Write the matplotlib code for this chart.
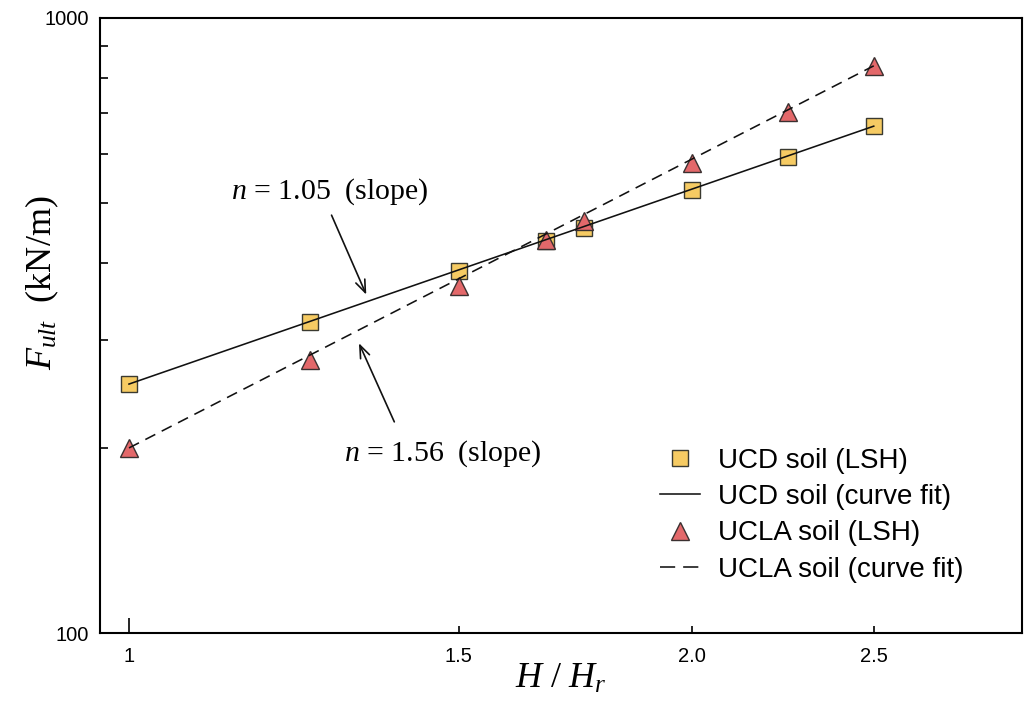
import matplotlib
matplotlib.use("Agg")
import matplotlib.pyplot as plt
from matplotlib.ticker import FixedLocator, NullFormatter, NullLocator

plt.rcParams["mathtext.fontset"] = "custom"
plt.rcParams["mathtext.rm"] = "Liberation Serif"
plt.rcParams["mathtext.it"] = "Liberation Serif:italic"

# Data
h_ratio = [1.0, 1.25, 1.5, 1.67, 1.75, 2.0, 2.25, 2.5]
ucd_lsh = [254, 320, 388, 434, 455, 525, 594, 667]
ucla_lsh = [200, 278, 366, 436, 468, 581, 703, 836]
fit_x = [1.0, 2.5]
ucd_fit = [254, 667]
ucla_fit = [200, 836]
xticks = [1, 1.5, 2.0, 2.5]
xticklabels = ["1", "1.5", "2.0", "2.5"]
yticks = [100, 1000]
yticklabels = ["100", "1000"]
yminor = [200, 300, 400, 500, 600, 700, 800, 900]

fig = plt.figure(figsize=(10.25, 7.05), dpi=100)
ax = fig.add_axes([0.0976, 0.102, 0.8994, 0.8725])
ax.set_xscale("log")
ax.set_yscale("log")
ax.set_xlim(0.965, 3.0)
ax.set_ylim(100, 1000)

dash = (0, (7, 4.5))
ax.plot(h_ratio, ucd_lsh, ls="none", marker="s", ms=12, mfc="#F6CB63",
        mec="#3a3a30", mew=1.0, label="UCD soil (LSH)", zorder=2)
ax.plot(fit_x, ucd_fit, color="#111111", lw=1.15, label="UCD soil (curve fit)", zorder=3)
ax.plot(h_ratio, ucla_lsh, ls="none", marker="^", ms=12.5, mfc="#E3686A",
        mec="#3a3030", mew=1.0, label="UCLA soil (LSH)", zorder=2)
ax.plot(fit_x, ucla_fit, color="#111111", lw=1.15, ls=dash,
        label="UCLA soil (curve fit)", zorder=3)

for s in ax.spines.values():
    s.set_linewidth(1.5)

ax.xaxis.set_major_locator(FixedLocator(xticks))
ax.xaxis.set_minor_locator(NullLocator())
ax.set_xticklabels(xticklabels)
ax.yaxis.set_major_locator(FixedLocator(yticks))
ax.yaxis.set_minor_locator(FixedLocator(yminor))
ax.yaxis.set_minor_formatter(NullFormatter())
ax.set_yticklabels(yticklabels)
ax.tick_params(axis="both", which="both", direction="in", top=False, right=False,
               labelsize=14.5, width=1.2)
ax.tick_params(axis="y", which="major", length=0, pad=8)
ax.tick_params(axis="y", which="minor", length=6)
ax.tick_params(axis="x", which="major", length=5, pad=10)
ax.get_xticklines()[0].set_markersize(10.5)
for lab in ax.get_xticklabels() + ax.get_yticklabels():
    lab.set_fontfamily("Liberation Sans")

ax.set_xlabel(r"$H\ /\ H_r$", fontsize=26)
ax.xaxis.label.set_va("top")
ax.xaxis.set_label_coords(0.5, -0.046)
ax.set_ylabel(r"$F_{ult}$  (kN/m)", fontsize=26, family="Liberation Serif")
ax.yaxis.set_label_coords(-0.042, 0.569)

arrow_kw = dict(arrowstyle="->,head_length=0.9,head_width=0.35", color="#111111",
                lw=1.2, shrinkA=0, shrinkB=0)
ax.annotate("", xy=(1.339, 355), xytext=(1.283, 478), arrowprops=arrow_kw)
ax.annotate("", xy=(1.327, 296), xytext=(1.386, 220.5), arrowprops=arrow_kw)
ax.text(1.281, 521, r"$n$ = 1.05  (slope)", ha="center", va="center",
        fontsize=21.5, family="Liberation Serif")
ax.text(1.472, 196, r"$n$ = 1.56  (slope)", ha="center", va="center",
        fontsize=21.5, family="Liberation Serif")

leg = ax.legend(loc="upper left", bbox_to_anchor=(0.607, 0.301), frameon=False,
                borderaxespad=0, borderpad=0, handlelength=1.45, handletextpad=0.65,
                labelspacing=0.37, prop={"family": "Liberation Sans", "size": 20})
leg.get_lines()[3].set_linestyle((0, (9.5, 5)))

fig.savefig("out.png", dpi=100)
